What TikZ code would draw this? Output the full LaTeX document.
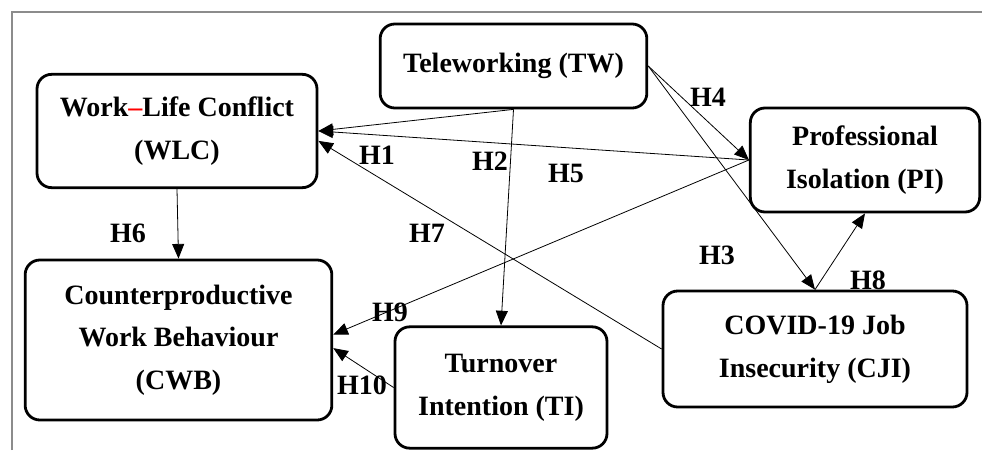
\documentclass[tikz,border=0pt]{standalone}
\usepackage{fontspec}
\setmainfont{Liberation Serif}
\usepackage{xcolor}
\usepackage{tikz}
\usetikzlibrary{arrows.meta,positioning}
\definecolor{ink}{HTML}{000000}
\definecolor{rule}{HTML}{8C8C8C}
\definecolor{redmark}{HTML}{FF0000}
\tikzset{
  box/.style={draw=ink, line width=2.1pt, rounded corners=11pt, align=center, inner sep=2pt, font=\fontsize{21}{32}\selectfont\bfseries},
  link/.style={draw=ink, line width=0.6pt, -{Triangle[length=11pt,width=9pt]}},
  hyp/.style={text=ink, inner sep=1pt, font=\fontsize{21}{24}\selectfont\bfseries},
  frame/.style={draw=rule, line width=1.3pt},
}
\begin{document}
\begin{tikzpicture}[x=0.75pt,y=-0.75pt]
\useasboundingbox (0,0) rectangle (982,450);
\draw[frame] (12,450) -- (12,12) -- (982,12);
% constructs
\node[box, minimum width=200pt, minimum height=63pt] (tw) at (513.5,66) {Teleworking (TW)};
\node[box, minimum width=210pt, minimum height=85pt] (wlc) at (177,131) {Work{\color{redmark}–}Life Conflict\\(WLC)};
\node[box, minimum width=172pt, minimum height=78pt] (pi) at (865,160) {Professional\\Isolation (PI)};
\node[box, minimum width=230pt, minimum height=120pt] (cwb) at (178.5,340) {Counterproductive\\Work Behaviour\\(CWB)};
\node[box, minimum width=159pt, minimum height=91pt] (ti) at (501,387.5) {Turnover\\Intention (TI)};
\node[box, minimum width=228pt, minimum height=87pt] (cji) at (815,349) {COVID-19 Job\\Insecurity (CJI)};
% paths
\draw[link] (tw.south) -- (wlc.east);
\draw[link] (tw.south) -- (ti.north);
\draw[link] (tw.east) -- (cji.north);
\draw[link] (tw.east) -- (pi.west);
\draw[link] (pi.west) -- (wlc.east);
\draw[link] (wlc.south) -- (cwb.north);
\draw[link] (cji.west) -- (wlc.-4);
\draw[link] (cji.north) -- (pi.south);
\draw[link] (pi.west) -- (cwb.2);
\draw[link] (ti.west) -- (cwb.-3);
% hypotheses
\node[hyp] (h1) at (377,155) {H1};
\node[hyp] (h2) at (490,161) {H2};
\node[hyp] (h3) at (717,255) {H3};
\node[hyp] (h4) at (708,97) {H4};
\node[hyp] (h5) at (566,173) {H5};
\node[hyp] (h6) at (128,233) {H6};
\node[hyp] (h7) at (427,233) {H7};
\node[hyp] (h8) at (868,280) {H8};
\node[hyp] (h9) at (390,312) {H9};
\node[hyp] (h10) at (362,385) {H10};
\end{tikzpicture}
\end{document}
